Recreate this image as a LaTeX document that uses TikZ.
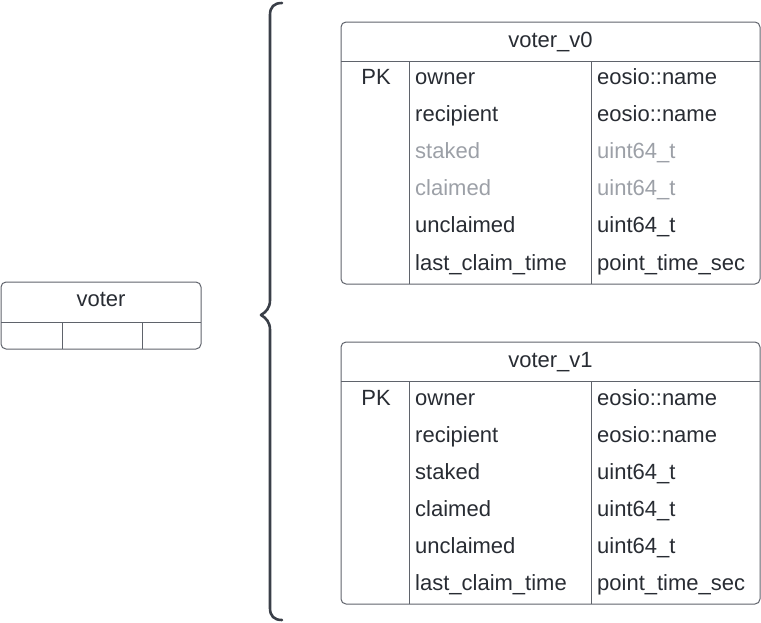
\documentclass[tikz,border=0pt]{standalone}
\usepackage{fontspec}
\setmainfont{Liberation Sans}
\usetikzlibrary{positioning}
\definecolor{ink}{HTML}{282C33}
\definecolor{faded}{HTML}{9CA0A7}
\definecolor{frame}{HTML}{5F636B}
\definecolor{bracecol}{HTML}{3A3F48}
\tikzset{
    entity/.style = {
        draw=frame,
        shape=rectangle,
        line width=1pt,
        rounded corners=5pt,
        inner sep=0pt
    },
    rule/.style = {
        draw=frame,
        line width=1pt
    },
    cell/.style = {
        anchor=base west,
        inner sep=0pt,
        text=ink,
        font=\fontsize{22}{26}\selectfont
    },
    title/.style = {
        anchor=base,
        inner sep=0pt,
        text=ink,
        font=\fontsize{22}{26}\selectfont
    },
    brace/.style = {
        draw=bracecol,
        line width=2.6pt,
        line cap=round,
        line join=round
    },
}
\begin{document}
\begin{tikzpicture}[x=1pt, y=-1pt]
            \useasboundingbox (0,0) rectangle (761,622);

            \node[entity, minimum width=200pt, minimum height=67pt] (voter) at (101,315.5) {};
            \node[title] (votertitle) at (101,306) {voter};
            \path[rule] (1,322) -- (201,322);
            \path[rule] (62,322) -- (62,349);
            \path[rule] (142,322) -- (142,349);

            \path[brace] (282,3) .. controls (274,3) and (270,7) .. (270,15)
                -- (270,300) .. controls (270,308) and (266,312) .. (261,315)
                .. controls (266,318) and (270,322) .. (270,330)
                -- (270,608) .. controls (270,616) and (274,620) .. (282,620);

            \node[entity, minimum width=419pt, minimum height=262pt] (v0) at (550.5,153) {};
            \node[title] (v0title) at (550.5,47) {voter\_v0};
            \path[rule] (341,61) -- (760,61);
            \path[rule] (409,61) -- (409,284);
            \path[rule] (591,61) -- (591,284);
            \node[title] (v0pk) at (376,84) {PK};
            \foreach \fname/\ftype/\col [count=\i] in {owner/eosio::name/ink, recipient/eosio::name/ink,
                    staked/uint64\_t/faded, claimed/uint64\_t/faded, unclaimed/uint64\_t/ink,
                    last\_claim\_time/point\_time\_sec/ink}{
                \node[cell, text=\col] (v0name\i) at (415,84+37.2*\i-37.2) {\fname};
                \node[cell, text=\col] (v0type\i) at (597,84+37.2*\i-37.2) {\ftype};
            }

            \node[entity, minimum width=419pt, minimum height=262pt] (v1) at (550.5,473) {};
            \node[title] (v1title) at (550.5,367) {voter\_v1};
            \path[rule] (341,381) -- (760,381);
            \path[rule] (409,381) -- (409,604);
            \path[rule] (591,381) -- (591,604);
            \node[title] (v1pk) at (376,405) {PK};
            \foreach \fname/\ftype [count=\i] in {owner/eosio::name, recipient/eosio::name,
                    staked/uint64\_t, claimed/uint64\_t, unclaimed/uint64\_t,
                    last\_claim\_time/point\_time\_sec}{
                \node[cell] (v1name\i) at (415,405+37*\i-37) {\fname};
                \node[cell] (v1type\i) at (597,405+37*\i-37) {\ftype};
            }
\end{tikzpicture}
\end{document}
